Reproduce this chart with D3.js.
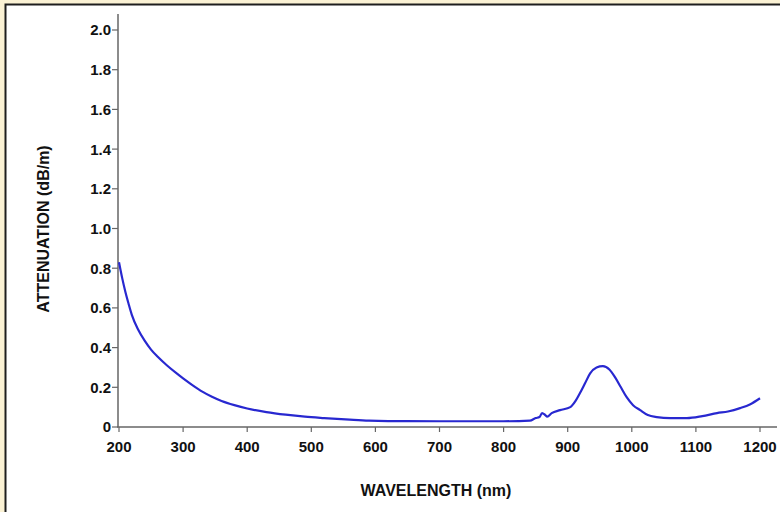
<!DOCTYPE html>
<html>
<head>
<meta charset="utf-8">
<script src="https://cdn.jsdelivr.net/npm/d3@7"></script>
<style>
  html, body { margin: 0; padding: 0; background: #fbf2d4; }
  #chart { width: 780px; height: 512px; }
  svg { display: block; font-family: "Liberation Sans", Arial, sans-serif; }
</style>
</head>
<body>
<div id="chart"></div>
<script>
// wavelength (nm) and attenuation (dB/m)
const wavelengths = [200, 205, 210, 215, 220, 230, 240, 250, 260, 275, 290, 300, 315, 330, 345, 360, 380, 400, 430, 460, 490, 520, 560, 590, 620, 700, 800, 841, 850, 856, 860, 865, 868, 875, 888, 904, 912, 919, 927, 935, 945, 955, 965, 974, 983, 992, 1002, 1013, 1025, 1039, 1060, 1086, 1110, 1133, 1150, 1169, 1185, 1200];
const attenuation = [0.83, 0.75, 0.68, 0.62, 0.565, 0.49, 0.435, 0.39, 0.355, 0.31, 0.27, 0.245, 0.21, 0.178, 0.152, 0.131, 0.11, 0.093, 0.075, 0.062, 0.052, 0.045, 0.037, 0.032, 0.03, 0.029, 0.029, 0.032, 0.045, 0.05, 0.07, 0.06, 0.052, 0.07, 0.085, 0.10, 0.13, 0.17, 0.22, 0.27, 0.30, 0.307, 0.29, 0.25, 0.20, 0.15, 0.11, 0.085, 0.06, 0.05, 0.045, 0.045, 0.055, 0.07, 0.078, 0.095, 0.115, 0.145];
const xTicks = [200, 300, 400, 500, 600, 700, 800, 900, 1000, 1100, 1200];
const yTicks = [0, 0.2, 0.4, 0.6, 0.8, 1.0, 1.2, 1.4, 1.6, 1.8, 2.0];

const width = 780, height = 512;
const svg = d3.select('#chart').append('svg')
    .attr('width', width)
    .attr('height', height);

// white panel with dark border on top/left
svg.append('rect')
    .attr('x', 5).attr('y', 4)
    .attr('width', width).attr('height', height)
    .attr('fill', '#ffffff');
svg.append('path')
    .attr('d', `M5.5,${height} V4.5 H${width}`)
    .attr('fill', 'none')
    .attr('stroke', '#1e1e1e')
    .attr('stroke-width', 2);

const x = d3.scaleLinear().domain([200, 1200]).range([119, 760]);
const y = d3.scaleLinear().domain([0, 2.0]).range([427, 30]);

const axisColor = '#666';
const labelSize = 15;

// x axis
const gx = svg.append('g').attr('transform', `translate(0,${y(0)})`);
gx.append('line')
    .attr('x1', 117).attr('x2', 777)
    .attr('stroke', axisColor).attr('stroke-width', 1.5);
gx.selectAll('.xt').data(xTicks).enter().append('line')
    .attr('x1', d => x(d)).attr('x2', d => x(d))
    .attr('y1', 0).attr('y2', 5)
    .attr('stroke', axisColor).attr('stroke-width', 1.2);
gx.selectAll('.xl').data(xTicks).enter().append('text')
    .attr('x', d => x(d)).attr('y', 25)
    .attr('text-anchor', 'middle')
    .attr('font-size', labelSize).attr('font-weight', 'bold')
    .attr('fill', '#111')
    .text(d => d);

// y axis
const gy = svg.append('g').attr('transform', `translate(${x(200) - 1},0)`);
gy.append('line')
    .attr('y1', 14).attr('y2', y(0))
    .attr('stroke', axisColor).attr('stroke-width', 1.5);
gy.selectAll('.yt').data(yTicks).enter().append('line')
    .attr('x1', -6).attr('x2', 0)
    .attr('y1', d => y(d)).attr('y2', d => y(d))
    .attr('stroke', axisColor).attr('stroke-width', 1.2);
gy.selectAll('.yl').data(yTicks).enter().append('text')
    .attr('x', -7).attr('y', d => y(d))
    .attr('dy', '0.36em')
    .attr('text-anchor', 'end')
    .attr('font-size', labelSize).attr('font-weight', 'bold')
    .attr('fill', '#111')
    .text(d => d === 0 ? '0' : d3.format('.1f')(d));

// axis titles
svg.append('text')
    .attr('x', 436).attr('y', 496)
    .attr('text-anchor', 'middle')
    .attr('font-size', 16).attr('font-weight', 'bold')
    .attr('fill', '#111')
    .text('WAVELENGTH (nm)');
svg.append('text')
    .attr('transform', `translate(49,229) rotate(-90)`)
    .attr('text-anchor', 'middle')
    .attr('font-size', 16).attr('font-weight', 'bold')
    .attr('fill', '#111')
    .text('ATTENUATION (dB/m)');

// curve
const data = wavelengths.map((w, i) => ({ w, a: attenuation[i] }));
const line = d3.line()
    .x(d => x(d.w))
    .y(d => y(d.a))
    .curve(d3.curveMonotoneX);
svg.append('path')
    .datum(data)
    .attr('d', line)
    .attr('fill', 'none')
    .attr('stroke', '#2828d0')
    .attr('stroke-width', 2.2)
    .attr('stroke-linejoin', 'round');
</script>
</body>
</html>
